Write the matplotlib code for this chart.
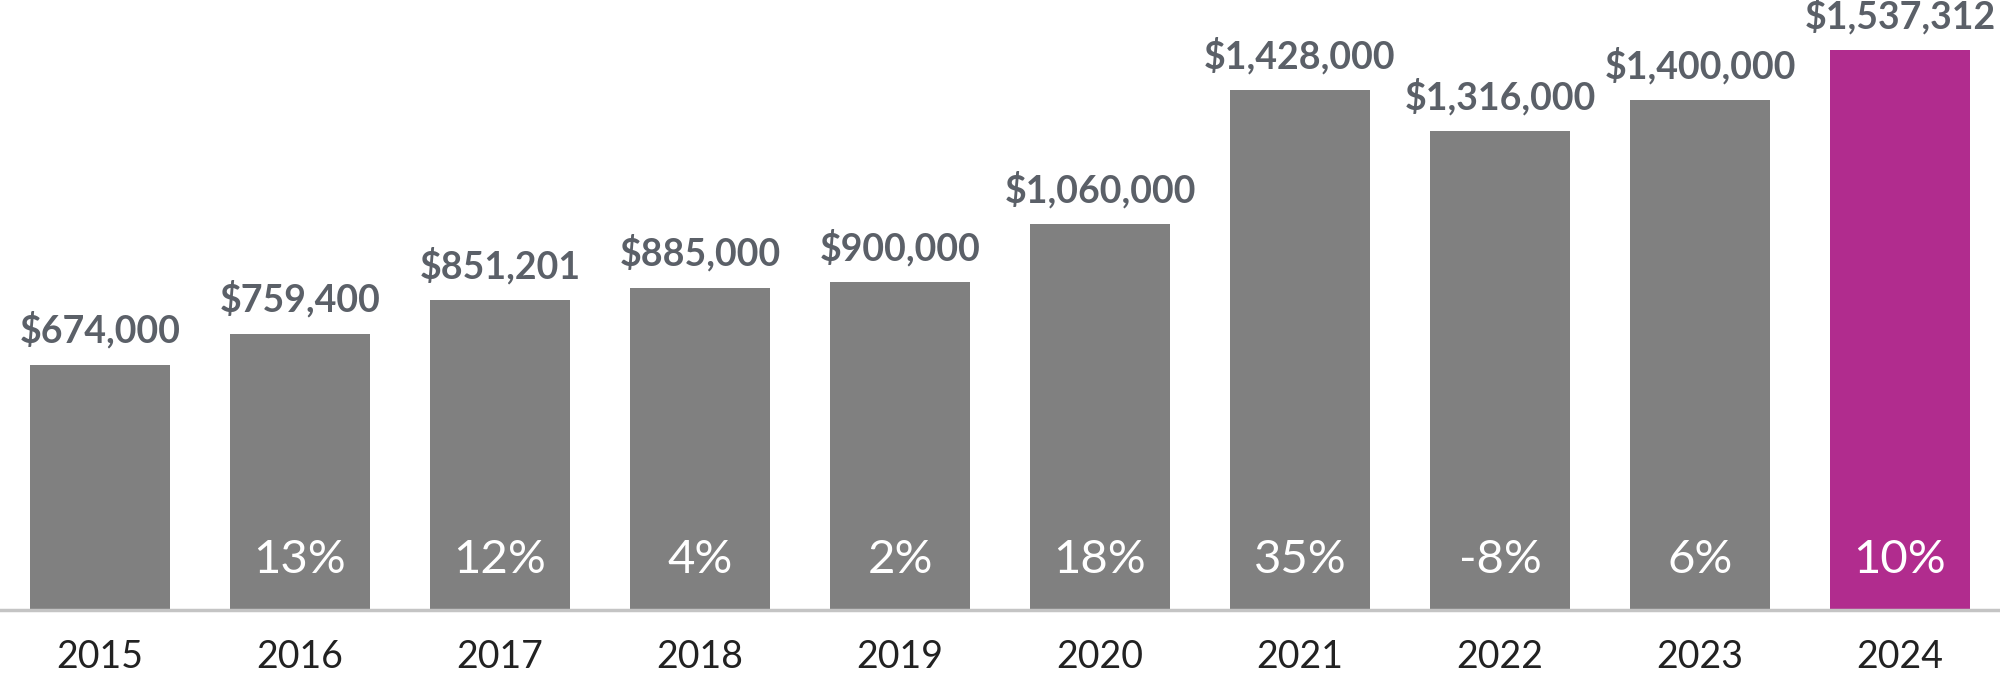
import matplotlib
matplotlib.use("Agg")
import matplotlib.pyplot as plt

years = ["2015", "2016", "2017", "2018", "2019", "2020", "2021", "2022", "2023", "2024"]
values = [674000, 759400, 851201, 885000, 900000, 1060000, 1428000, 1316000, 1400000, 1537312]
value_labels = ["$674,000", "$759,400", "$851,201", "$885,000", "$900,000",
                "$1,060,000", "$1,428,000", "$1,316,000", "$1,400,000", "$1,537,312"]
pct_labels = ["", "13%", "12%", "4%", "2%", "18%", "35%", "-8%", "6%", "10%"]

gray = "#808080"
pink = "#B12C8E"
colors = [gray] * 9 + [pink]

plt.rcParams["font.family"] = ["Lato", "DejaVu Sans"]

fig = plt.figure(figsize=(20, 6.81), dpi=100)
ax = fig.add_axes([0, 71 / 681, 1, 610 / 681])
x = list(range(len(years)))
ax.bar(x, values, width=0.7, color=colors, zorder=2)
ax.set_xlim(-0.5, 9.5)
ax.set_ylim(0, 1676000)
ax.axhline(0, color="#c4c4c4", lw=2.5, zorder=3, clip_on=False)

for i in x:
    ax.annotate(value_labels[i], (i, values[i]), xytext=(0, 15.8), textcoords="offset points",
                ha="center", va="baseline", fontsize=27, fontweight="bold", color="#5b6068",
                annotation_clip=False)
    if pct_labels[i]:
        ax.annotate(pct_labels[i], (i, 0), xytext=(0, 26.6), textcoords="offset points",
                    ha="center", va="baseline", fontsize=34, fontweight="normal", color="white")
    ax.annotate(years[i], (i, 0), xytext=(0, -41.8), textcoords="offset points",
                ha="center", va="baseline", fontsize=27, fontweight="normal", color="#222222",
                annotation_clip=False)

ax.axis("off")
fig.savefig("out.png", dpi=100)
